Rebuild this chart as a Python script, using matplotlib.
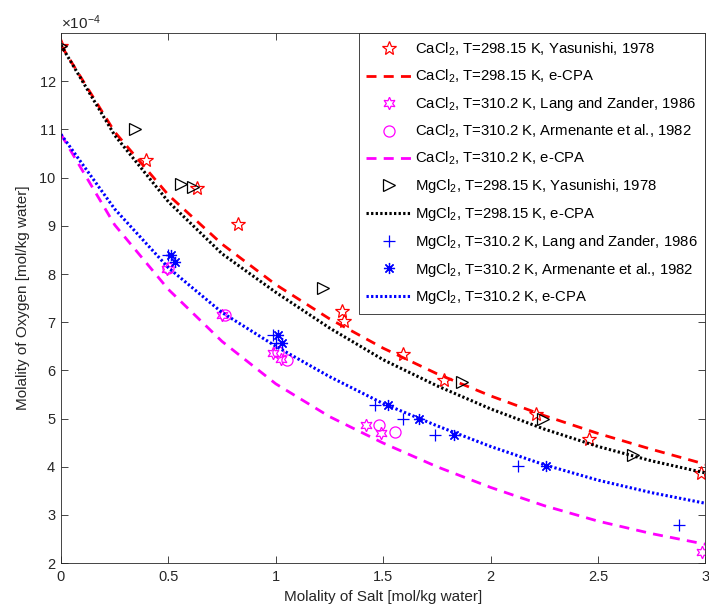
import matplotlib
matplotlib.use('Agg')
import matplotlib.pyplot as plt
from matplotlib.ticker import FormatStrFormatter
import numpy as np

plt.rcParams['font.family'] = ['Liberation Sans', 'DejaVu Sans']
plt.rcParams['mathtext.default'] = 'regular'

# Model curves (e-CPA), molality of oxygen in 1e-4 mol/kg water
x_model = [0, 0.25, 0.5, 0.75, 1.0, 1.25, 1.5, 1.75, 2.0, 2.25, 2.5, 2.75, 3.0]
ca_298_model = [12.75, 10.95, 9.64, 8.62, 7.78, 7.07, 6.46, 5.93, 5.47, 5.06, 4.69, 4.36, 4.05]
ca_310_model = [10.9, 9.02, 7.68, 6.60, 5.72, 5.04, 4.49, 4.00, 3.57, 3.19, 2.87, 2.61, 2.39]
mg_298_model = [12.75, 10.88, 9.50, 8.42, 7.62, 6.88, 6.22, 5.68, 5.20, 4.78, 4.42, 4.12, 3.87]
mg_310_model = [10.9, 9.35, 8.13, 7.20, 6.50, 5.87, 5.31, 4.85, 4.42, 4.04, 3.72, 3.46, 3.24]

# Experimental data
ca_298_yas_x = [0, 0.398, 0.631, 0.825, 1.31, 1.316, 1.59, 1.783, 2.212, 2.46, 2.98]
ca_298_yas_y = [12.74, 10.37, 9.79, 9.04, 7.23, 7.02, 6.33, 5.80, 5.09, 4.58, 3.87]

ca_310_lang_x = [0.495, 0.748, 0.985, 1.023, 1.422, 1.488, 2.983]
ca_310_lang_y = [8.11, 7.15, 6.36, 6.24, 4.86, 4.70, 2.23]

ca_310_arm_x = [0.50, 0.763, 1.008, 1.05, 1.479, 1.553]
ca_310_arm_y = [8.12, 7.15, 6.38, 6.21, 4.87, 4.73]

mg_298_yas_x = [0, 0.344, 0.561, 0.615, 1.22, 1.868, 2.243, 2.662]
mg_298_yas_y = [12.74, 11.01, 9.86, 9.80, 7.70, 5.76, 4.99, 4.24]

mg_310_lang_x = [0.499, 0.985, 1.0, 1.46, 1.593, 1.743, 2.127, 2.879]
mg_310_lang_y = [8.39, 6.74, 6.56, 5.29, 4.98, 4.65, 4.02, 2.80]

mg_310_arm_x = [0.512, 0.53, 1.011, 1.03, 1.523, 1.665, 1.829, 2.256]
mg_310_arm_y = [8.39, 8.24, 6.74, 6.56, 5.29, 4.98, 4.66, 4.01]

scale = 1e-4
def s(v):
    return np.array(v) * scale

fig = plt.figure(figsize=(7.09, 6.14), dpi=100)
ax = fig.add_axes([0.086, 0.083, 0.909, 0.863])

ms = 9
mew = 0.9
hexagram = (6, 1, 0)
asterisk = (8, 2, 0)

ax.plot(ca_298_yas_x, s(ca_298_yas_y), ls='none', marker='*', ms=ms + 1, mew=mew,
        mfc='none', mec='red', label='CaCl$_2$, T=298.15 K, Yasunishi, 1978')
ax.plot(x_model, s(ca_298_model), color='red', lw=2, dashes=(3.6, 2.6),
        label='CaCl$_2$, T=298.15 K, e-CPA')
ax.plot(ca_310_lang_x, s(ca_310_lang_y), ls='none', marker=hexagram, ms=ms, mew=mew,
        mfc='none', mec='magenta', label='CaCl$_2$, T=310.2 K, Lang and Zander, 1986')
ax.plot(ca_310_arm_x, s(ca_310_arm_y), ls='none', marker='o', ms=ms - 1, mew=mew,
        mfc='none', mec='magenta', label='CaCl$_2$, T=310.2 K, Armenante et al., 1982')
ax.plot(x_model, s(ca_310_model), color='magenta', lw=2, dashes=(3.6, 2.6),
        label='CaCl$_2$, T=310.2 K, e-CPA')
ax.plot(mg_298_yas_x, s(mg_298_yas_y), ls='none', marker='>', ms=ms, mew=mew,
        mfc='none', mec='black', label='MgCl$_2$, T=298.15 K, Yasunishi, 1978')
ax.plot(x_model, s(mg_298_model), color='black', lw=2.2, dashes=(0.75, 0.75),
        label='MgCl$_2$, T=298.15 K, e-CPA')
ax.plot(mg_310_lang_x, s(mg_310_lang_y), ls='none', marker='+', ms=ms, mew=mew,
        mec='blue', label='MgCl$_2$, T=310.2 K, Lang and Zander, 1986')
ax.plot(mg_310_arm_x, s(mg_310_arm_y), ls='none', marker=asterisk, ms=ms - 1, mew=mew,
        mec='blue', label='MgCl$_2$, T=310.2 K, Armenante et al., 1982')
ax.plot(x_model, s(mg_310_model), color='blue', lw=2.2, dashes=(0.75, 0.75),
        label='MgCl$_2$, T=310.2 K, e-CPA')

axcol = '#262626'
ax.set_xlim(0, 3)
ax.set_ylim(2e-4, 13e-4)
ax.set_xticks(np.arange(0, 3.01, 0.5))
ax.xaxis.set_major_formatter(FormatStrFormatter('%g'))
ax.set_yticks(np.arange(2, 12.1, 1) * scale)
ax.ticklabel_format(axis='y', style='sci', scilimits=(-4, -4), useMathText=True)
ax.tick_params(direction='in', top=True, right=True, length=5, width=0.6,
               colors=axcol, labelsize=10.5)
ax.tick_params(axis='x', pad=5)
ax.yaxis.get_offset_text().set_fontsize(11)
ax.yaxis.get_offset_text().set_color(axcol)
for sp in ax.spines.values():
    sp.set_color(axcol)
    sp.set_linewidth(0.6)

ax.set_xlabel('Molality of Salt [mol/kg water]', fontsize=11, color=axcol)
ax.set_ylabel('Molality of Oxygen [mol/kg water]', fontsize=11, color=axcol, labelpad=6)

leg = ax.legend(loc='upper right', bbox_to_anchor=(1.0, 1.0), borderaxespad=0,
                fontsize=10.7, numpoints=1, handlelength=3.0, handletextpad=0.3,
                labelspacing=0.66, borderpad=0.5, fancybox=False, framealpha=1,
                edgecolor=axcol)
leg.get_frame().set_linewidth(0.6)

fig.savefig('out.png', dpi=100)
